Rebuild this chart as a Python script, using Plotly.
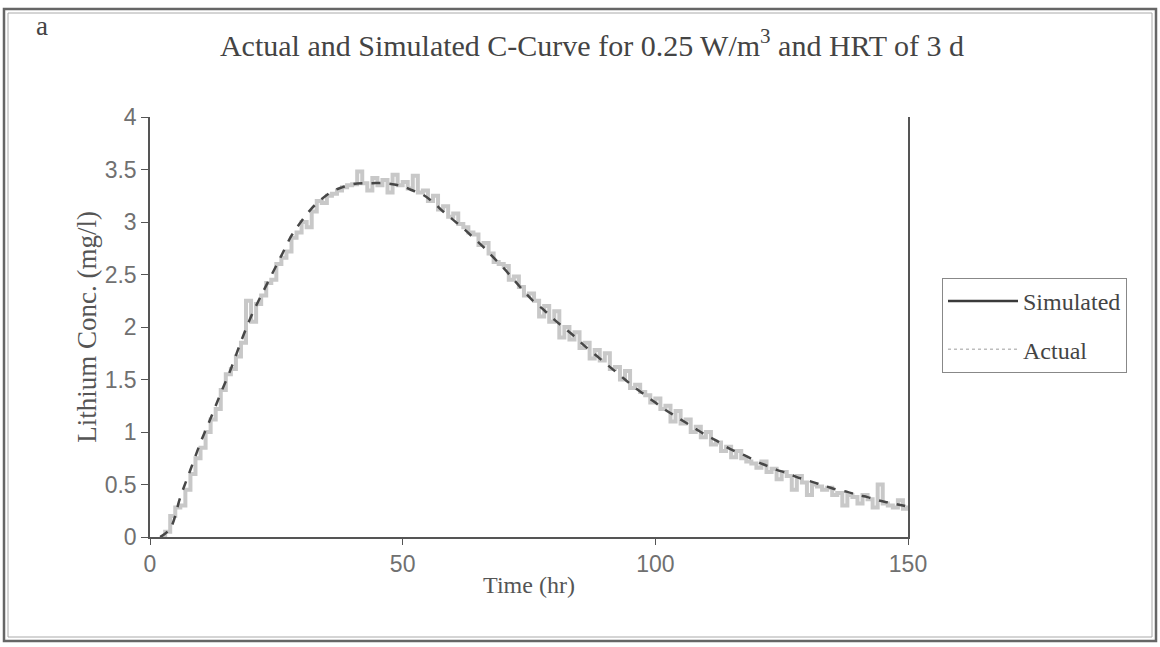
import plotly.graph_objects as go

# ---------------- data ----------------
sim_time = [2, 4, 6, 8, 10, 12, 14, 16, 18, 20, 22, 24, 26, 28, 30, 32, 34, 36, 38, 40,
            42, 44, 46, 48, 50, 52, 54, 56, 58, 60, 62, 64, 66, 68, 70, 72, 74, 76, 78, 80,
            82, 84, 86, 88, 90, 92, 94, 96, 98, 100, 102, 104, 106, 108, 110, 112, 114, 116,
            118, 120, 122, 124, 126, 128, 130, 132, 134, 136, 138, 140, 142, 144, 146, 148, 150]
sim_conc = [0.0, 0.08, 0.38, 0.64, 0.9, 1.13, 1.37, 1.6, 1.86, 2.1, 2.3, 2.49, 2.68, 2.87, 3.01,
            3.13, 3.22, 3.29, 3.33, 3.36, 3.37, 3.37, 3.37, 3.36, 3.34, 3.3, 3.26, 3.19, 3.1, 3.02,
            2.94, 2.85, 2.76, 2.66, 2.56, 2.45, 2.34, 2.24, 2.16, 2.07, 1.99, 1.91, 1.82, 1.74, 1.66,
            1.58, 1.5, 1.42, 1.35, 1.28, 1.21, 1.15, 1.09, 1.03, 0.97, 0.92, 0.86, 0.81, 0.77, 0.72,
            0.68, 0.64, 0.61, 0.57, 0.54, 0.51, 0.48, 0.45, 0.43, 0.4, 0.38, 0.35, 0.33, 0.31, 0.29]

act_time = list(range(2, 151))
act_conc = [0.0, 0.05, 0.2, 0.28, 0.3, 0.45, 0.6, 0.75, 0.85, 1.0,
            1.12, 1.22, 1.4, 1.55, 1.6, 1.72, 1.85, 2.25, 2.05, 2.22,
            2.3, 2.42, 2.45, 2.6, 2.66, 2.72, 2.85, 2.9, 3.0, 2.95,
            3.1, 3.2, 3.18, 3.25, 3.27, 3.3, 3.33, 3.35, 3.36, 3.48,
            3.37, 3.3, 3.42, 3.35, 3.4, 3.28, 3.45, 3.35, 3.38, 3.32,
            3.44, 3.28, 3.3, 3.2, 3.25, 3.12, 3.15, 3.05, 3.08, 2.98,
            2.95, 2.9, 2.88, 2.78, 2.8, 2.7, 2.62, 2.6, 2.58, 2.45,
            2.48, 2.38, 2.3, 2.32, 2.25, 2.1, 2.2, 2.05, 2.15, 1.9,
            2.0, 1.88, 1.95, 1.8, 1.85, 1.7, 1.78, 1.68, 1.75, 1.6,
            1.62, 1.5, 1.58, 1.42, 1.45, 1.38, 1.35, 1.28, 1.32, 1.22,
            1.25, 1.1, 1.2, 1.08, 1.12, 1.0, 1.05, 0.95, 1.0, 0.88,
            0.9, 0.82, 0.86, 0.76, 0.82, 0.75, 0.72, 0.7, 0.66, 0.72,
            0.62, 0.65, 0.55, 0.62, 0.58, 0.45, 0.58, 0.52, 0.4, 0.5,
            0.48, 0.45, 0.47, 0.4, 0.42, 0.3, 0.4, 0.38, 0.32, 0.4,
            0.36, 0.28, 0.5, 0.32, 0.3, 0.28, 0.35, 0.27, 0.3]

x_ticks = [0, 50, 100, 150]
y_ticks = [0, 0.5, 1, 1.5, 2, 2.5, 3, 3.5, 4]
y_tick_text = ["0", "0.5", "1", "1.5", "2", "2.5", "3", "3.5", "4"]

# ---------------- figure ----------------
W, H = 1160, 647
L, R, T, B = 150, 908, 117, 537

def px(xp):
    return (xp - L) / (R - L)

def py(yp):
    return (B - yp) / (B - T)

serif = "Liberation Serif, Times New Roman, serif"
sans = "Liberation Sans, Arial, sans-serif"

fig = go.Figure()
# data traces (no legend of their own)
fig.add_trace(go.Scatter(
    x=act_time, y=act_conc, name="Actual", mode="lines",
    line=dict(color="#c8c8c8", width=4, shape="hv"),
    showlegend=False,
))
fig.add_trace(go.Scatter(
    x=sim_time, y=sim_conc, name="Simulated", mode="lines",
    line=dict(color="#474747", width=2.5, dash="dash", shape="spline"),
    showlegend=False,
))
# legend keys styled like the reference's legend
fig.add_trace(go.Scatter(
    x=[None], y=[None], name="Simulated", mode="lines",
    line=dict(color="#3a3a3a", width=2.5), legendgroup="a",
))
fig.add_trace(go.Scatter(
    x=[None], y=[None], name="Actual", mode="lines",
    line=dict(color="#bdbdbd", width=1.5, dash="dot"), legendgroup="b",
))

fig.update_layout(
    width=W, height=H,
    margin=dict(l=L, r=W - R, t=T, b=H - B),
    paper_bgcolor="white", plot_bgcolor="white",
    title=dict(
        text="Actual and Simulated C-Curve for 0.25 W/m<sup>3</sup> and HRT of 3 d",
        x=592 / W, xanchor="center", xref="container",
        y=1 - 45 / H, yanchor="middle", yref="container",
        font=dict(family=serif, size=30, color="#444"),
    ),
    showlegend=True,
    legend=dict(
        x=px(942), y=py(278), xanchor="left", yanchor="top",
        bordercolor="#888", borderwidth=1, bgcolor="white",
        font=dict(family=serif, size=24, color="#444"),
        traceorder="grouped", tracegroupgap=14, itemwidth=70,
        entrywidth=112, entrywidthmode="pixels",
    ),
    xaxis=dict(
        range=[0, 150], tickvals=x_ticks, ticktext=[str(v) for v in x_ticks],
        showgrid=False, zeroline=False,
        showline=True, linecolor="#555", linewidth=1.5,
        ticks="outside", ticklen=6, tickcolor="#555",
        tickfont=dict(family=sans, size=23, color="#707070"),
        title=dict(text="Time (hr)", font=dict(family=serif, size=24, color="#555"), standoff=0),
    ),
    yaxis=dict(
        range=[0, 4], tickvals=y_ticks, ticktext=y_tick_text,
        showgrid=False, zeroline=False,
        showline=True, linecolor="#555", linewidth=1.5, mirror=True,
        ticks="outside", ticklen=7, tickcolor="#555",
        tickfont=dict(family=sans, size=23, color="#707070"),
        title=dict(text="Lithium Conc. (mg/l)", font=dict(family=serif, size=27, color="#555"), standoff=0),
    ),
)

# panel letter
fig.add_annotation(text="a", xref="paper", yref="paper", x=px(42), y=py(26),
                   xanchor="center", yanchor="middle",
                   showarrow=False, font=dict(family=serif, size=27, color="#444"))

# outer double frame
fig.add_shape(type="rect", xref="paper", yref="paper",
              x0=px(4), x1=px(1156), y0=py(641), y1=py(9),
              line=dict(color="#666", width=2.5), fillcolor="rgba(0,0,0,0)", layer="below")
fig.add_shape(type="rect", xref="paper", yref="paper",
              x0=px(8), x1=px(1152), y0=py(637), y1=py(13),
              line=dict(color="#aaa", width=1), fillcolor="rgba(0,0,0,0)", layer="below")

fig.write_html("out.html", config={"displayModeBar": False},
               post_script="document.body.style.margin='0';document.body.style.overflow='hidden';")
